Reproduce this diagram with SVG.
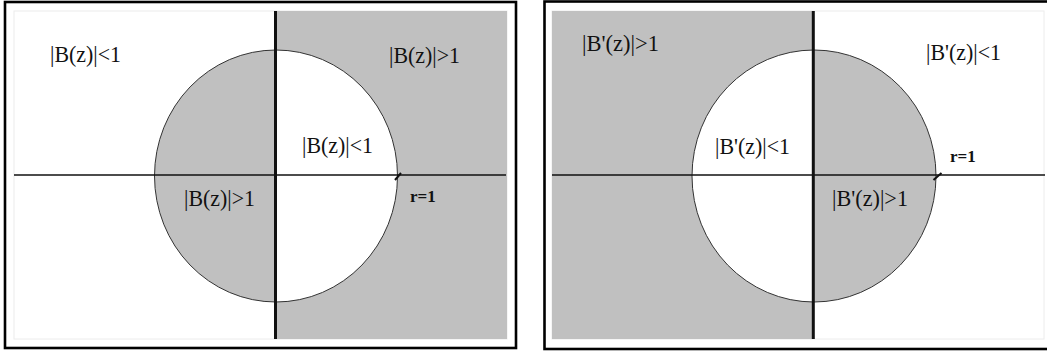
<svg xmlns="http://www.w3.org/2000/svg" width="1047" height="352" viewBox="0 0 1047 352">
<style>
.frame{fill:none;stroke:#000;stroke-width:2.6}
.inner{fill:#fff;stroke:#ececec;stroke-width:1}
.gray{fill:#c0c0c0}
.white{fill:#fff}
.circ{fill:none;stroke:#333;stroke-width:1}
.vaxis{stroke:#111;stroke-width:3}
.haxis{stroke:#111;stroke-width:1.3}
.tick{stroke:#111;stroke-width:2}
.lbl{font-family:"Liberation Serif",serif;font-size:23px;fill:#111}
.r{font-family:"Liberation Serif",serif;font-size:17px;font-weight:bold;fill:#111}
</style>
<rect width="1047" height="352" fill="#fff"/>
<g id="panel-left">
  <rect class="frame" x="5" y="2" width="511" height="346"/>
  <rect class="inner" x="14" y="11" width="493" height="328"/>
  <rect class="gray" x="276" y="11" width="231" height="328"/>
  <path class="gray" d="M276,50 A121.5,126 0 0 0 276,302 Z"/>
  <path class="white" d="M276,50 A121.5,126 0 0 1 276,302 Z"/>
  <ellipse class="circ" cx="276" cy="176" rx="121.5" ry="126"/>
  <line class="haxis" x1="14" y1="175" x2="506" y2="175"/>
  <line class="vaxis" x1="275.5" y1="11" x2="275.5" y2="339"/>
  <line class="tick" x1="395" y1="180" x2="401" y2="173"/>
  <text class="lbl" x="50" y="62" textLength="71" lengthAdjust="spacingAndGlyphs">|B(z)|&lt;1</text>
  <text class="lbl" x="389" y="63" textLength="71" lengthAdjust="spacingAndGlyphs">|B(z)|&gt;1</text>
  <text class="lbl" x="302" y="153" textLength="71" lengthAdjust="spacingAndGlyphs">|B(z)|&lt;1</text>
  <text class="lbl" x="184" y="206" textLength="71" lengthAdjust="spacingAndGlyphs">|B(z)|&gt;1</text>
  <text class="r" x="410" y="202">r=1</text>
</g>
<g id="panel-right">
  <rect class="frame" x="544.5" y="1.5" width="510" height="347.5"/>
  <rect class="inner" x="552" y="11" width="492" height="328"/>
  <rect class="gray" x="552" y="11" width="261" height="328"/>
  <path class="white" d="M814,50 A122,126 0 0 0 814,302 Z"/>
  <path class="gray" d="M814,50 A122,126 0 0 1 814,302 Z"/>
  <ellipse class="circ" cx="814" cy="176" rx="122" ry="126"/>
  <line class="haxis" x1="552" y1="175" x2="1045" y2="175"/>
  <line class="vaxis" x1="813.3" y1="11" x2="813.3" y2="339"/>
  <line class="tick" x1="933.5" y1="180" x2="941.5" y2="173"/>
  <text class="lbl" x="582" y="51" textLength="77" lengthAdjust="spacingAndGlyphs">|B'(z)|&gt;1</text>
  <text class="lbl" x="926" y="60" textLength="75" lengthAdjust="spacingAndGlyphs">|B'(z)|&lt;1</text>
  <text class="lbl" x="715" y="154" textLength="75" lengthAdjust="spacingAndGlyphs">|B'(z)|&lt;1</text>
  <text class="lbl" x="832" y="206" textLength="76" lengthAdjust="spacingAndGlyphs">|B'(z)|&gt;1</text>
  <text class="r" x="950" y="162">r=1</text>
</g>
</svg>
